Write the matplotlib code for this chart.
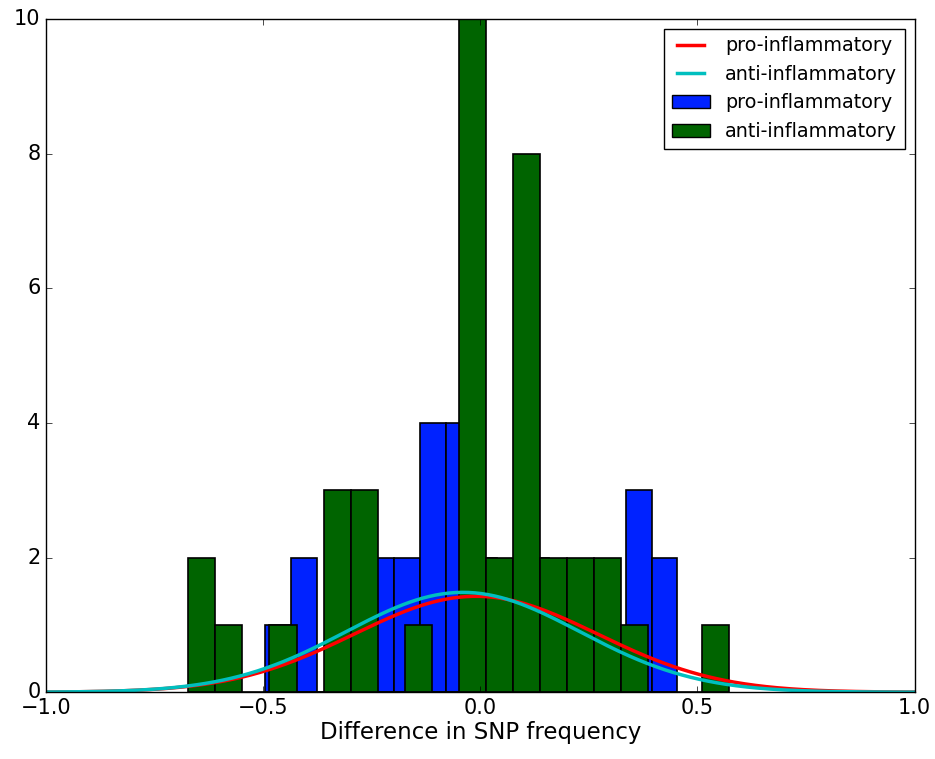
import numpy as np
import matplotlib
matplotlib.use('Agg')
import matplotlib.pyplot as plt
from matplotlib.patches import Patch
from matplotlib.lines import Line2D

# histogram of pro-inflammatory SNP differences (16 bins)
pro_start = -0.495
pro_width = 0.0593
pro_counts = [1, 2, 0, 1, 2, 2, 4, 4, 2, 1, 2, 1, 1, 0, 3, 2]

# histogram of anti-inflammatory SNP differences (20 bins)
anti_start = -0.672
anti_width = 0.0622
anti_counts = [2, 1, 0, 1, 0, 3, 3, 0, 1, 0, 10, 2, 8, 2, 2, 2, 1, 0, 0, 1]

# fitted normal curves (mean, std)
pro_mu, pro_sigma = -0.01, 0.280
anti_mu, anti_sigma = -0.04, 0.269


def normpdf(x, mu, sigma):
    return np.exp(-0.5 * ((x - mu) / sigma) ** 2) / (sigma * np.sqrt(2 * np.pi))


plt.style.use('classic')
plt.rcParams['font.size'] = 15

fig = plt.figure(figsize=(9.35, 7.59), dpi=100)
ax = fig.add_axes([0.0492, 0.088, 0.9290, 0.887])

pro_edges = pro_start + pro_width * np.arange(len(pro_counts))
anti_edges = anti_start + anti_width * np.arange(len(anti_counts))

ax.bar(pro_edges, pro_counts, width=pro_width, align='edge',
       color='#0022ff', edgecolor='black', linewidth=1.2)
ax.bar(anti_edges, anti_counts, width=anti_width, align='edge',
       color='#006400', edgecolor='black', linewidth=1.2)

xs = np.linspace(-1, 1, 400)
ax.plot(xs, normpdf(xs, pro_mu, pro_sigma), color='red', lw=2.5)
ax.plot(xs, normpdf(xs, anti_mu, anti_sigma), color='#00bfbf', lw=2.5)

ax.set_xlim(-1, 1)
ax.set_ylim(0, 10)
ax.set_xticks([-1.0, -0.5, 0.0, 0.5, 1.0])
ax.set_yticks([0, 2, 4, 6, 8, 10])
ax.set_xlabel('Difference in SNP frequency', fontsize=16.5, labelpad=2)

handles = [
    Line2D([], [], color='red', lw=2.5),
    Line2D([], [], color='#00bfbf', lw=2.5),
    Patch(facecolor='#0022ff', edgecolor='black'),
    Patch(facecolor='#006400', edgecolor='black'),
]
labels = ['pro-inflammatory', 'anti-inflammatory',
          'pro-inflammatory', 'anti-inflammatory']
ax.legend(handles, labels, loc='upper right', fontsize=13.8)

fig.savefig('out.png', dpi=100)
